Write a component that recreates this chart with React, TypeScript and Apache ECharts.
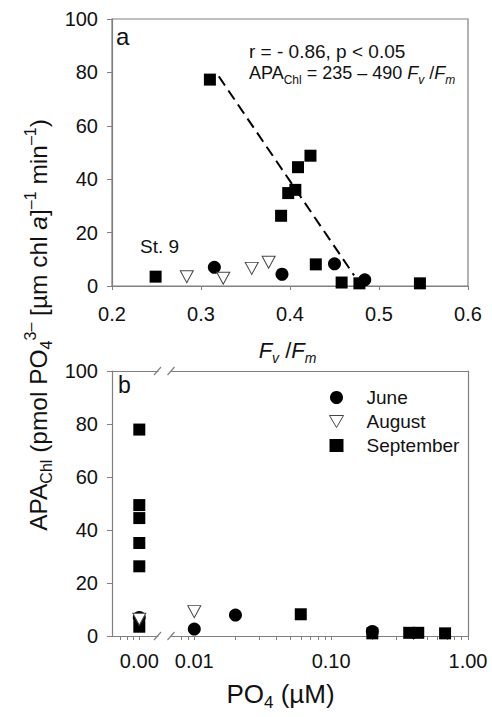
import React, { useEffect, useRef } from 'react';
import * as echarts from 'echarts';

const FONT = '"Liberation Sans", Arial, Helvetica, sans-serif';
const FRAME = '#808080';
const INK = '#111111';

// ---- Panel a: APA_Chl vs Fv/Fm ----
const fvfmJune = [0.315, 0.391, 0.45, 0.484];
const apaFvJune = [7.0, 4.4, 8.3, 2.3];
const fvfmAug = [0.284, 0.325, 0.357, 0.376];
const apaFvAug = [3.5, 2.9, 6.6, 8.9];
const fvfmSep = [0.249, 0.31, 0.39, 0.398, 0.406, 0.409, 0.423, 0.429, 0.458, 0.478, 0.546];
const apaFvSep = [3.5, 77.3, 26.3, 34.8, 36.0, 44.5, 48.8, 8.1, 1.3, 1.0, 1.0];
const fitFv = [0.32, 0.472];
const fitApa = [78.5, 4.0];

// ---- Panel b: APA_Chl vs PO4 (0.00 shown left of the axis break) ----
const po4June = [0, 0.01, 0.02, 0.2];
const apaPoJune = [7.0, 2.6, 7.9, 1.7];
const po4Aug = [0, 0.01];
const apaPoAug = [6.3, 9.2];
const po4Sep = [0, 0, 0, 0, 0, 0, 0.06, 0.2, 0.372, 0.433, 0.68];
const apaPoSep = [77.9, 49.4, 44.5, 35.1, 26.3, 3.5, 8.2, 1.0, 1.2, 1.2, 1.0];

const yTicks = [0, 20, 40, 60, 80, 100];
const po4Labels = [0.01, 0.1, 1];
const po4MinorTicks = [
  0.008, 0.009, 0.01, 0.02, 0.03, 0.04, 0.05, 0.06, 0.07, 0.08, 0.09,
  0.1, 0.2, 0.3, 0.4, 0.5, 0.6, 0.7, 0.8, 0.9, 1,
];

const pairs = (xs: number[], ys: number[]) => xs.map((x, i) => [x, ys[i]]);
const zeroPairs = (xs: number[], ys: number[]) =>
  xs.map((x, i) => [x, ys[i]]).filter((p) => p[0] === 0);
const posPairs = (xs: number[], ys: number[]) =>
  xs.map((x, i) => [x, ys[i]]).filter((p) => p[0] > 0);

const tickStyle = { show: true, inside: false, length: 4, lineStyle: { color: FRAME, width: 1 } };
const lineStyle = { show: true, onZero: false, lineStyle: { color: FRAME, width: 1.2 } };
const labelStyle = { color: INK, fontSize: 20, fontFamily: FONT };

const sJune = { symbol: 'circle', symbolSize: 13, itemStyle: { color: '#000', opacity: 1 } };
const sAug = {
  symbol: 'triangle',
  symbolSize: [13, 12],
  symbolRotate: 180,
  itemStyle: { color: '#fff', borderColor: '#444', borderWidth: 1, opacity: 1 },
};
const sSep = { symbol: 'rect', symbolSize: 12, itemStyle: { color: '#000', opacity: 1 } };

const richBase = (size: number, lh: number) => ({
  t: { fontSize: size, fontFamily: FONT, fill: INK, lineHeight: lh },
  i: { fontSize: size, fontFamily: FONT, fill: INK, fontStyle: 'italic', lineHeight: lh },
  s: { fontSize: Math.round(size * 0.65), fontFamily: FONT, fill: INK, verticalAlign: 'bottom', lineHeight: Math.round(size * 0.7) },
  si: { fontSize: Math.round(size * 0.65), fontFamily: FONT, fill: INK, fontStyle: 'italic', verticalAlign: 'bottom', lineHeight: Math.round(size * 0.7) },
  p: { fontSize: Math.round(size * 0.65), fontFamily: FONT, fill: INK, verticalAlign: 'top', lineHeight: Math.round(size * 0.7) },
});

export default function App() {
  const ref = useRef<HTMLDivElement>(null);
  useEffect(() => {
    if (!ref.current) return;
    const chart = echarts.init(ref.current, null, { renderer: 'svg' });
    const option: any = {
      animation: false,
      backgroundColor: '#fff',
      textStyle: { fontFamily: FONT },
      grid: [
        { left: 112, top: 19, width: 356, height: 267, show: true, borderColor: FRAME, borderWidth: 1.2 },
        { left: 112, top: 371, width: 46, height: 265 },
        { left: 171, top: 371, width: 297, height: 265 },
      ],
      xAxis: [
        {
          gridIndex: 0, type: 'value', min: 0.2, max: 0.6, interval: 0.1,
          axisLine: lineStyle, axisTick: tickStyle, splitLine: { show: false },
          axisLabel: { ...labelStyle, margin: 18, formatter: (v: number) => v.toFixed(1) },
        },
        {
          gridIndex: 1, type: 'value', min: -1, max: 0.685,
          axisLine: lineStyle,
          axisTick: { ...tickStyle, customValues: [-0.71, -0.44, -0.22, 0] },
          splitLine: { show: false },
          axisLabel: { ...labelStyle, margin: 15, customValues: [0], formatter: () => '0.00' },
        },
        {
          gridIndex: 2, type: 'log', min: 0.00676, max: 1,
          axisLine: lineStyle,
          axisTick: { ...tickStyle, customValues: po4MinorTicks },
          splitLine: { show: false }, minorTick: { show: false },
          axisLabel: { ...labelStyle, margin: 15, customValues: po4Labels, formatter: (v: number) => Number(v).toFixed(2) },
        },
        {
          gridIndex: 1, type: 'value', position: 'top', min: -1, max: 0.685,
          axisLine: lineStyle, axisTick: { show: false }, axisLabel: { show: false }, splitLine: { show: false },
        },
        {
          gridIndex: 2, type: 'value', position: 'top', min: 0, max: 1,
          axisLine: lineStyle, axisTick: { show: false }, axisLabel: { show: false }, splitLine: { show: false },
        },
      ],
      yAxis: [
        {
          gridIndex: 0, type: 'value', min: 0, max: 100, interval: 20,
          axisLine: lineStyle, axisTick: { ...tickStyle, length: 5 }, splitLine: { show: false },
          axisLabel: { ...labelStyle, margin: 14, customValues: yTicks },
        },
        {
          gridIndex: 1, type: 'value', min: 0, max: 100, interval: 20,
          axisLine: lineStyle, axisTick: { ...tickStyle, length: 5 }, splitLine: { show: false },
          axisLabel: { ...labelStyle, margin: 14, customValues: yTicks },
        },
        {
          gridIndex: 2, type: 'value', position: 'right', min: 0, max: 100, interval: 20,
          axisLine: lineStyle, axisTick: { show: false }, axisLabel: { show: false }, splitLine: { show: false },
        },
      ],
      legend: {
        data: [
          { name: 'June' },
          { name: 'August', icon: 'path://M0,0L14,0L7,12Z', itemStyle: { color: '#fff', borderColor: '#444', borderWidth: 1 } },
          { name: 'September' },
        ],
        orient: 'vertical',
        left: 329,
        top: 388,
        itemWidth: 14,
        itemHeight: 13,
        itemGap: 5,
        padding: 0,
        selectedMode: false,
        textStyle: { fontSize: 19, fontFamily: FONT, color: INK, lineHeight: 18.5, padding: [0, 0, 0, 18] },
      },
      series: [
        { name: 'September', type: 'scatter', xAxisIndex: 0, yAxisIndex: 0, data: pairs(fvfmSep, apaFvSep), ...sSep },
        { name: 'June', type: 'scatter', xAxisIndex: 0, yAxisIndex: 0, data: pairs(fvfmJune, apaFvJune), ...sJune },
        { name: 'August', type: 'scatter', xAxisIndex: 0, yAxisIndex: 0, data: pairs(fvfmAug, apaFvAug), ...sAug },
        {
          name: 'fit', type: 'line', xAxisIndex: 0, yAxisIndex: 0, data: pairs(fitFv, fitApa),
          symbol: 'none', lineStyle: { color: '#000', width: 2, type: [11, 6] }, z: 1,
        },
        { name: 'September', type: 'scatter', xAxisIndex: 1, yAxisIndex: 1, data: zeroPairs(po4Sep, apaPoSep), ...sSep },
        { name: 'June', type: 'scatter', xAxisIndex: 1, yAxisIndex: 1, data: zeroPairs(po4June, apaPoJune), ...sJune },
        { name: 'August', type: 'scatter', xAxisIndex: 1, yAxisIndex: 1, data: zeroPairs(po4Aug, apaPoAug), ...sAug },
        { name: 'September', type: 'scatter', xAxisIndex: 2, yAxisIndex: 2, data: posPairs(po4Sep, apaPoSep), ...sSep },
        { name: 'June', type: 'scatter', xAxisIndex: 2, yAxisIndex: 2, data: posPairs(po4June, apaPoJune), ...sJune },
        { name: 'August', type: 'scatter', xAxisIndex: 2, yAxisIndex: 2, data: posPairs(po4Aug, apaPoAug), ...sAug },
      ],
      graphic: [
        { type: 'text', x: 116, y: 36, style: { text: 'a', fontSize: 24, fontFamily: FONT, fill: INK, verticalAlign: 'middle' } },
        { type: 'text', x: 118, y: 385, style: { text: 'b', fontSize: 23, fontFamily: FONT, fill: INK, verticalAlign: 'middle' } },
        { type: 'text', x: 140, y: 246.5, style: { text: 'St. 9', fontSize: 19, fontFamily: FONT, fill: INK, verticalAlign: 'middle' } },
        { type: 'text', x: 249, y: 51, style: { text: 'r = - 0.86, p < 0.05', fontSize: 19, fontFamily: FONT, fill: INK, verticalAlign: 'middle' } },
        {
          type: 'text', x: 249, y: 73,
          style: {
            text: '{t|APA}{s|Chl}{t| = 235 – 490 }{i|F}{si|v}{t| /}{i|F}{si|m}',
            rich: richBase(18, 25), verticalAlign: 'middle',
          },
        },
        {
          type: 'text', x: 287.5, y: 350,
          style: { text: '{i|F}{si|v}{t| /}{i|F}{si|m}', rich: richBase(22, 30), align: 'center', verticalAlign: 'middle' },
        },
        {
          type: 'text', x: 280.5, y: 694,
          style: { text: '{t|PO}{s|4}{t| (µM)}', rich: richBase(26, 34), align: 'center', verticalAlign: 'middle' },
        },
        {
          type: 'text', x: 38, y: 325, rotation: Math.PI / 2,
          style: {
            text: '{t|APA}{s|Chl}{t| (pmol PO}{s|4}{p|3–}{t| [µm chl }{i|a}{t|]}{p|–1}{t| min}{p|–1}{t|)}',
            rich: richBase(24.5, 32), align: 'center', verticalAlign: 'middle',
          },
        },
        // axis-break marks
        { type: 'line', shape: { x1: 154, y1: 375, x2: 161, y2: 367 }, style: { stroke: FRAME, lineWidth: 1.2 } },
        { type: 'line', shape: { x1: 167.5, y1: 375, x2: 174.5, y2: 367 }, style: { stroke: FRAME, lineWidth: 1.2 } },
        { type: 'line', shape: { x1: 154, y1: 640, x2: 161, y2: 632 }, style: { stroke: FRAME, lineWidth: 1.2 } },
        { type: 'line', shape: { x1: 167.5, y1: 640, x2: 174.5, y2: 632 }, style: { stroke: FRAME, lineWidth: 1.2 } },
      ],
    };
    chart.setOption(option);
    return () => chart.dispose();
  }, []);
  return (
    <div
      ref={ref}
      style={{ position: 'fixed', left: 0, top: 0, width: 492, height: 717, background: '#fff' }}
    />
  );
}
